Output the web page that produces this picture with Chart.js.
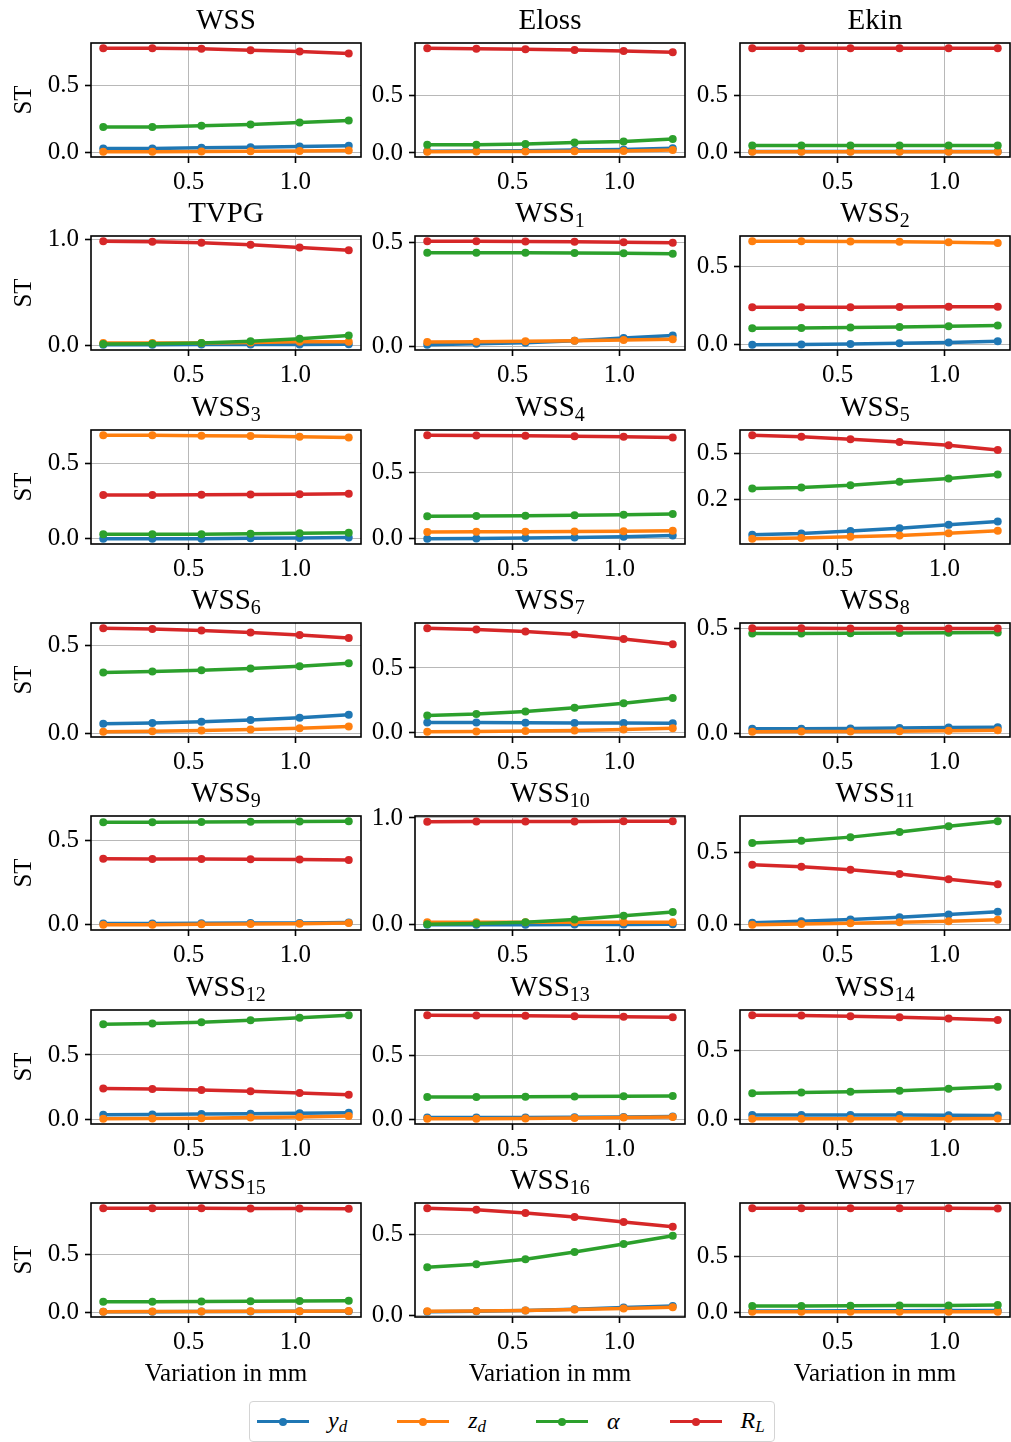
<!DOCTYPE html>
<html>
<head>
<meta charset="utf-8">
<script src="https://cdn.jsdelivr.net/npm/chart.js@4.4.1/dist/chart.umd.min.js"></script>
<style>
  html, body { margin: 0; padding: 0; background: #fff; overflow: hidden; }
  #wrap { position: relative; width: 1011px; height: 1442px; overflow: hidden; }
  #wrap canvas { position: absolute; }
  #legend {
    position: absolute; left: 249px; top: 1401px; height: 39px;
    border: 1px solid #d4d4d4; border-radius: 4px; background: #fff;
    display: flex; align-items: center; gap: 50px; padding: 0 9px 0 7px;
    font-family: "Liberation Serif", serif; font-size: 24px; font-style: italic;
  }
  .item { display: flex; align-items: center; }
  .handle { position: relative; width: 52px; height: 3.5px; margin-right: 19px; }
  .handle i { position: absolute; left: 22px; top: -2.25px; width: 8px; height: 8px; border-radius: 50%; background: inherit; }
  .item sub { font-size: 17px; vertical-align: -4px; }
</style>
</head>
<body>
<div id="wrap">
  <div id="legend"></div>
</div>
<script>
// x positions (variation in mm) shared by every panel
const xValues = [0.1, 0.33, 0.56, 0.79, 1.02, 1.25];
const xTicks = [0.5, 1.0];
const xTickLabels = ["0.5", "1.0"];

const titleMain = ["WSS", "Eloss", "Ekin", "TVPG", "WSS", "WSS", "WSS", "WSS", "WSS", "WSS", "WSS",
    "WSS", "WSS", "WSS", "WSS", "WSS", "WSS", "WSS", "WSS", "WSS", "WSS"];
const titleSub = ["", "", "", "", "1", "2", "3", "4", "5", "6", "7",
    "8", "9", "10", "11", "12", "13", "14", "15", "16", "17"];

const yd = [
    [0.03, 0.03, 0.035, 0.04, 0.045, 0.05],
    [0.015, 0.017, 0.02, 0.025, 0.03, 0.04],
    [0.008, 0.008, 0.008, 0.008, 0.008, 0.008],
    [0.002, 0.003, 0.004, 0.005, 0.006, 0.007],
    [0.01, 0.015, 0.02, 0.03, 0.042, 0.055],
    [0.0, 0.002, 0.005, 0.01, 0.015, 0.022],
    [0.0, 0.0, 0.001, 0.003, 0.005, 0.008],
    [0.0, 0.002, 0.006, 0.01, 0.016, 0.025],
    [0.058, 0.065, 0.078, 0.094, 0.113, 0.131],
    [0.055, 0.06, 0.067, 0.077, 0.09, 0.107],
    [0.075, 0.074, 0.073, 0.071, 0.07, 0.069],
    [0.022, 0.023, 0.024, 0.026, 0.028, 0.03],
    [0.008, 0.008, 0.009, 0.01, 0.011, 0.013],
    [0.0, 0.0, 0.0, 0.002, 0.003, 0.005],
    [0.015, 0.025, 0.037, 0.053, 0.072, 0.09],
    [0.035, 0.036, 0.04, 0.043, 0.047, 0.05],
    [0.012, 0.012, 0.013, 0.015, 0.017, 0.02],
    [0.03, 0.03, 0.03, 0.03, 0.029, 0.028],
    [0.002, 0.003, 0.004, 0.005, 0.006, 0.008],
    [0.022, 0.025, 0.03, 0.038, 0.048, 0.058],
    [0.01, 0.01, 0.011, 0.012, 0.013, 0.014],
];

const zd = [
    [0.005, 0.005, 0.007, 0.01, 0.012, 0.015],
    [0.01, 0.012, 0.013, 0.015, 0.018, 0.025],
    [0.005, 0.005, 0.005, 0.005, 0.005, 0.005],
    [0.02, 0.02, 0.02, 0.025, 0.03, 0.03],
    [0.024, 0.025, 0.027, 0.03, 0.033, 0.036],
    [0.66, 0.66, 0.658, 0.656, 0.653, 0.648],
    [0.685, 0.684, 0.682, 0.679, 0.675, 0.67],
    [0.052, 0.053, 0.054, 0.055, 0.057, 0.06],
    [0.036, 0.04, 0.047, 0.054, 0.067, 0.08],
    [0.01, 0.013, 0.017, 0.023, 0.03, 0.04],
    [0.002, 0.004, 0.008, 0.013, 0.02, 0.03],
    [0.008, 0.009, 0.01, 0.011, 0.013, 0.015],
    [0.0, 0.001, 0.003, 0.005, 0.007, 0.01],
    [0.025, 0.025, 0.024, 0.023, 0.023, 0.024],
    [0.0, 0.005, 0.01, 0.017, 0.025, 0.035],
    [0.003, 0.005, 0.008, 0.013, 0.018, 0.024],
    [0.002, 0.003, 0.005, 0.008, 0.012, 0.017],
    [0.003, 0.003, 0.003, 0.004, 0.004, 0.005],
    [0.003, 0.004, 0.005, 0.006, 0.008, 0.01],
    [0.025, 0.027, 0.03, 0.036, 0.043, 0.05],
    [0.002, 0.002, 0.002, 0.002, 0.002, 0.003],
];

const alpha = [
    [0.19, 0.19, 0.2, 0.21, 0.225, 0.24],
    [0.07, 0.072, 0.078, 0.09, 0.1, 0.12],
    [0.06, 0.06, 0.06, 0.06, 0.06, 0.06],
    [0.01, 0.012, 0.02, 0.035, 0.06, 0.09],
    [0.45, 0.45, 0.45, 0.448, 0.447, 0.445],
    [0.105, 0.107, 0.11, 0.113, 0.118, 0.123],
    [0.03, 0.03, 0.031, 0.033, 0.036, 0.04],
    [0.17, 0.172, 0.174, 0.177, 0.181, 0.187],
    [0.31, 0.316, 0.328, 0.347, 0.365, 0.387],
    [0.345, 0.35, 0.357, 0.367, 0.38, 0.397],
    [0.13, 0.14, 0.16, 0.19, 0.225, 0.265],
    [0.475, 0.475, 0.476, 0.477, 0.478, 0.479],
    [0.605, 0.606, 0.607, 0.608, 0.61, 0.612],
    [0.005, 0.012, 0.025, 0.05, 0.085, 0.12],
    [0.565, 0.58, 0.605, 0.64, 0.68, 0.715],
    [0.74, 0.745, 0.755, 0.77, 0.79, 0.81],
    [0.175, 0.175, 0.176, 0.178, 0.18, 0.183],
    [0.19, 0.195, 0.2, 0.208, 0.222, 0.237],
    [0.09, 0.09, 0.092, 0.094, 0.096, 0.098],
    [0.296, 0.315, 0.345, 0.39, 0.44, 0.49],
    [0.055, 0.055, 0.056, 0.058, 0.06, 0.063],
];

const RL = [
    [0.78, 0.78, 0.775, 0.765, 0.755, 0.74],
    [0.905, 0.9, 0.895, 0.89, 0.88, 0.87],
    [0.915, 0.915, 0.915, 0.915, 0.915, 0.915],
    [0.985, 0.98, 0.97, 0.95, 0.925, 0.9],
    [0.505, 0.505, 0.503, 0.502, 0.5, 0.497],
    [0.24, 0.24, 0.24, 0.241, 0.242, 0.243],
    [0.29, 0.29, 0.291, 0.293, 0.295, 0.298],
    [0.78, 0.778, 0.776, 0.772, 0.768, 0.762],
    [0.601, 0.593, 0.579, 0.564, 0.546, 0.52],
    [0.595, 0.59, 0.582, 0.57, 0.557, 0.54],
    [0.81, 0.8, 0.785, 0.76, 0.725, 0.685],
    [0.5, 0.5, 0.499, 0.499, 0.498, 0.498],
    [0.39, 0.389, 0.388, 0.387, 0.385, 0.383],
    [0.965, 0.966, 0.967, 0.968, 0.969, 0.97],
    [0.415, 0.4, 0.38, 0.35, 0.315, 0.28],
    [0.24, 0.235, 0.228, 0.218, 0.205, 0.19],
    [0.82, 0.818, 0.815, 0.812, 0.808, 0.803],
    [0.76, 0.757, 0.752, 0.745, 0.735, 0.725],
    [0.905, 0.905, 0.904, 0.903, 0.902, 0.9],
    [0.66, 0.65, 0.63, 0.605, 0.575, 0.545],
    [0.935, 0.935, 0.935, 0.934, 0.934, 0.933],
];

const yTickValues = [
    [0, 0.5], [0, 0.5], [0, 0.5],
    [0, 1], [0, 0.5], [0, 0.5],
    [0, 0.5], [0, 0.5], [0.25, 0.5],
    [0, 0.5], [0, 0.5], [0, 0.5],
    [0, 0.5], [0, 1], [0, 0.5],
    [0, 0.5], [0, 0.5], [0, 0.5],
    [0, 0.5], [0, 0.5], [0, 0.5],
];
const yTickLabels = [
    ["0.0", "0.5"], ["0.0", "0.5"], ["0.0", "0.5"],
    ["0.0", "1.0"], ["0.0", "0.5"], ["0.0", "0.5"],
    ["0.0", "0.5"], ["0.0", "0.5"], ["0.2", "0.5"],
    ["0.0", "0.5"], ["0.0", "0.5"], ["0.0", "0.5"],
    ["0.0", "0.5"], ["0.0", "1.0"], ["0.0", "0.5"],
    ["0.0", "0.5"], ["0.0", "0.5"], ["0.0", "0.5"],
    ["0.0", "0.5"], ["0.0", "0.5"], ["0.0", "0.5"],
];

const seriesNames = ["y", "z", "α", "R"];
const seriesSubs = ["d", "d", "", "L"];
const seriesColors = ["#1f77b4", "#ff7f0e", "#2ca02c", "#d62728"];

const FONT = '"Liberation Serif", "Times New Roman", serif';
const colLeft = [91, 415, 740];
const rowTop = [43, 236, 430, 623, 816, 1010, 1203];
const plotW = 270;
const plotH = 114;
const canvasW = 366;

// matplotlib style 5% margins
const padRange = (arr) => {
    const lo = Math.min(...arr);
    const hi = Math.max(...arr);
    const m = (hi - lo) * 0.05;
    return [lo - m, hi + m];
};

const decorations = {
    id: "decorations",
    afterDatasetsDraw(chart, args, opts) {
        const { ctx, chartArea: a } = chart;
        ctx.save();
        ctx.strokeStyle = "#000";
        ctx.lineWidth = 1.6;
        ctx.strokeRect(a.left, a.top, a.right - a.left, a.bottom - a.top);

        ctx.fillStyle = "#000";
        ctx.textBaseline = "alphabetic";
        const cx = (a.left + a.right) / 2;
        ctx.font = "29px " + FONT;
        const mw = ctx.measureText(opts.main).width;
        ctx.font = "20px " + FONT;
        const sw = opts.sub ? ctx.measureText(opts.sub).width : 0;
        const x0 = cx - (mw + sw) / 2;
        ctx.textAlign = "left";
        ctx.font = "29px " + FONT;
        ctx.fillText(opts.main, x0, a.top - 14);
        if (opts.sub) {
            ctx.font = "20px " + FONT;
            ctx.fillText(opts.sub, x0 + mw, a.top - 9);
        }

        ctx.font = "25px " + FONT;
        ctx.textAlign = "center";
        if (opts.ylabel) {
            ctx.save();
            ctx.translate(31, (a.top + a.bottom) / 2);
            ctx.rotate(-Math.PI / 2);
            ctx.fillText("ST", 0, 0);
            ctx.restore();
        }
        if (opts.xlabel) {
            ctx.fillText("Variation in mm", cx, a.bottom + 64);
        }
        ctx.restore();
    },
};

const [xMin, xMax] = padRange(xValues);
const wrap = document.getElementById("wrap");

for (let p = 0; p < 21; p++) {
    const row = Math.floor(p / 3);
    const col = p % 3;
    const lastRow = row === 6;
    const h = lastRow ? 232 : 193;

    const canvas = document.createElement("canvas");
    canvas.width = canvasW;
    canvas.height = h;
    canvas.style.left = (colLeft[col] - 91) + "px";
    canvas.style.top = (rowTop[row] - 43) + "px";
    canvas.style.width = canvasW + "px";
    canvas.style.height = h + "px";
    wrap.appendChild(canvas);

    const series = [yd[p], zd[p], alpha[p], RL[p]];
    const [yMin, yMax] = padRange(series.flat());

    new Chart(canvas, {
        type: "line",
        data: {
            labels: xValues,
            datasets: series.map((vals, i) => ({
                label: seriesNames[i],
                data: vals.map((v, k) => ({ x: xValues[k], y: v })),
                borderColor: seriesColors[i],
                backgroundColor: seriesColors[i],
                borderWidth: 3.5,
                pointRadius: 4,
                pointBorderWidth: 0,
                pointBackgroundColor: seriesColors[i],
                tension: 0,
                order: 4 - i,
            })),
        },
        options: {
            responsive: false,
            devicePixelRatio: 1,
            animation: false,
            events: [],
            layout: {
                padding: { top: 43, left: 0, right: canvasW - 91 - plotW, bottom: 0 },
            },
            plugins: {
                legend: { display: false },
                tooltip: { enabled: false },
                decorations: {
                    main: titleMain[p],
                    sub: titleSub[p],
                    ylabel: col === 0,
                    xlabel: lastRow,
                },
            },
            scales: {
                x: {
                    type: "linear",
                    min: xMin,
                    max: xMax,
                    afterBuildTicks: (scale) => {
                        scale.ticks = xTicks.map((v) => ({ value: v }));
                    },
                    afterFit: (scale) => {
                        scale.height = h - 43 - plotH;
                    },
                    ticks: {
                        autoSkip: false,
                        maxRotation: 0,
                        padding: 4,
                        color: "#000",
                        font: { family: FONT, size: 25 },
                        callback: (v, i) => xTickLabels[i],
                    },
                    grid: {
                        color: "#b8b8b8",
                        lineWidth: 1,
                        tickColor: "#000",
                        tickWidth: 1.6,
                        tickLength: 6,
                    },
                    border: { display: false },
                },
                y: {
                    type: "linear",
                    min: yMin,
                    max: yMax,
                    afterBuildTicks: (scale) => {
                        scale.ticks = yTickValues[p].map((v) => ({ value: v }));
                    },
                    afterFit: (scale) => {
                        scale.width = 91;
                    },
                    ticks: {
                        autoSkip: false,
                        padding: 6,
                        color: "#000",
                        font: { family: FONT, size: 25 },
                        callback: (v, i) => yTickLabels[p][i],
                    },
                    grid: {
                        color: "#b8b8b8",
                        lineWidth: 1,
                        tickColor: "#000",
                        tickWidth: 1.6,
                        tickLength: 6,
                    },
                    border: { display: false },
                },
            },
        },
        plugins: [decorations],
    });
}

// shared legend below the grid
const legend = document.getElementById("legend");
seriesNames.forEach((name, i) => {
    const item = document.createElement("div");
    item.className = "item";
    const handle = document.createElement("span");
    handle.className = "handle";
    handle.style.background = seriesColors[i];
    handle.appendChild(document.createElement("i"));
    const label = document.createElement("span");
    label.innerHTML = name + (seriesSubs[i] ? "<sub>" + seriesSubs[i] + "</sub>" : "");
    item.appendChild(handle);
    item.appendChild(label);
    legend.appendChild(item);
});
</script>
</body>
</html>
